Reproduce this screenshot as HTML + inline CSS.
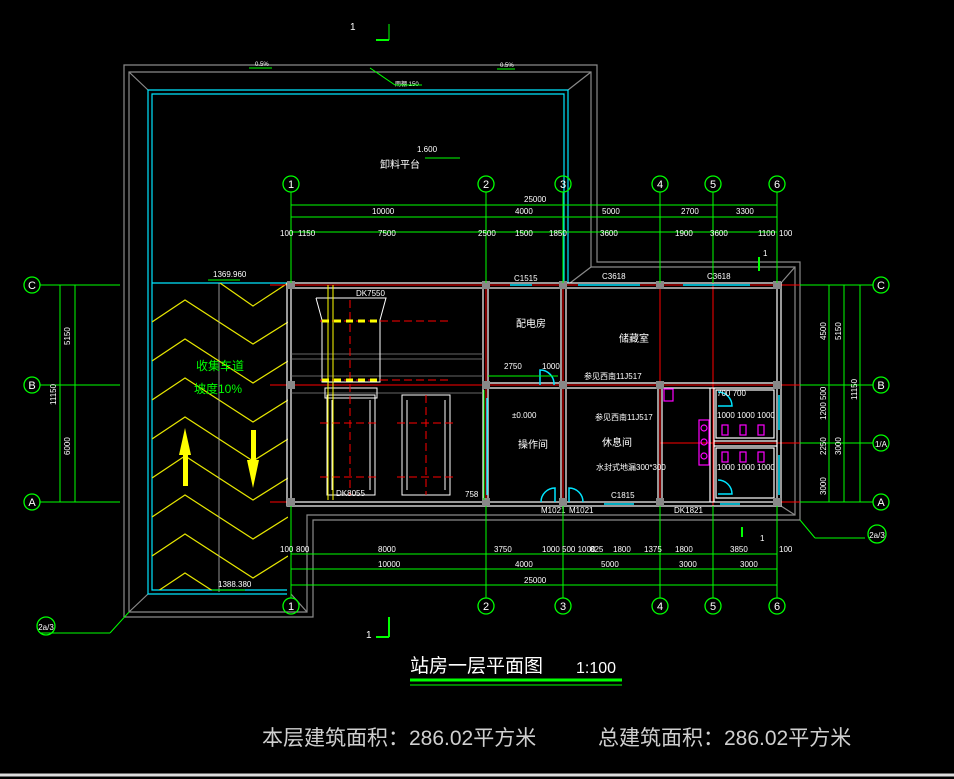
<!DOCTYPE html>
<html><head><meta charset="utf-8"><style>
html,body{margin:0;padding:0;background:#000;width:954px;height:779px;overflow:hidden}
svg{display:block}
text{font-family:"Liberation Sans","Noto Sans CJK SC",sans-serif}
</style></head><body>
<svg width="954" height="779" viewBox="0 0 954 779" xmlns="http://www.w3.org/2000/svg">
<defs><clipPath id="rc"><rect x="152" y="283" width="136" height="307"/></clipPath></defs>
<rect width="954" height="779" fill="#000"/>
<!-- gray outer frames -->
<g fill="none" stroke="#8a8a8a" stroke-width="1.2">
<polyline points="124,617 124,65 597,65 597,262 800,262 800,520 313,520 313,617 124,617"/>
<polyline points="129,612 129,72 591,72 591,267 795,267 795,515 307,515 307,612 129,612"/>
<line x1="129" y1="72" x2="148" y2="90"/><line x1="591" y1="72" x2="568" y2="90"/>
<line x1="129" y1="612" x2="148" y2="594"/><line x1="307" y1="612" x2="291" y2="594"/>
<line x1="795" y1="267" x2="781" y2="283"/><line x1="591" y1="267" x2="570" y2="283"/>
<line x1="795" y1="515" x2="781" y2="506"/>
</g>
<!-- cyan -->
<g fill="none" stroke="#00e5ff" stroke-width="1.2">
<polyline points="287,594 148,594 148,90 568,90 568,283"/>
<polyline points="287,590 152,590 152,94 564,94 564,283"/>
<line x1="152" y1="283" x2="287" y2="283"/>
</g>
<!-- ramp zigzag -->
<g fill="none" stroke="#e6e600" stroke-width="1.2" clip-path="url(#rc)">
<polyline points="220,283 253,306 288,283"/>
<polyline points="152,322 185,300 253,344 288,322"/>
<polyline points="152,361 185,339 253,383 288,361"/>
<polyline points="152,400 185,378 253,422 288,400"/>
<polyline points="152,439 185,417 253,461 288,439"/>
<polyline points="152,478 185,456 253,500 288,478"/>
<polyline points="152,517 185,495 253,539 288,517"/>
<polyline points="152,556 185,534 253,578 288,556"/>
<polyline points="152,595 185,573 253,617 288,595"/>
</g>
<line x1="219" y1="283" x2="219" y2="592" stroke="#bbb" stroke-width="0.8"/>
<g fill="#ffff00">
<rect x="183" y="455" width="5" height="31"/><polygon points="179,455 185,428 191,455"/>
<rect x="251" y="430" width="5" height="32"/><polygon points="247,460 253,488 259,460"/>
</g>
<text x="196" y="370" fill="#00ff00" font-size="12">收集车道</text>
<text x="194" y="393" fill="#00ff00" font-size="12">坡度10%</text>
<!-- red axis lines -->
<g stroke="#ff0000" stroke-width="1">
<line x1="291" y1="270" x2="291" y2="515"/><line x1="486" y1="270" x2="486" y2="515"/>
<line x1="563" y1="270" x2="563" y2="515"/><line x1="660" y1="270" x2="660" y2="515"/>
<line x1="713" y1="270" x2="713" y2="515"/><line x1="777" y1="270" x2="777" y2="515"/>
<line x1="270" y1="285" x2="800" y2="285"/><line x1="270" y1="385" x2="800" y2="385"/>
<line x1="660" y1="443" x2="800" y2="443"/><line x1="270" y1="502" x2="800" y2="502"/>
</g>
<!-- walls -->
<g fill="none" stroke="#ffffff" stroke-width="1.2">
<rect x="287" y="283" width="494" height="223"/>
<rect x="291" y="288" width="486" height="214"/>
<line x1="483" y1="288" x2="483" y2="502"/><line x1="488" y1="288" x2="488" y2="502"/>
<line x1="561" y1="288" x2="561" y2="502"/><line x1="566" y1="288" x2="566" y2="502"/>
<line x1="658" y1="388" x2="658" y2="502"/><line x1="662" y1="388" x2="662" y2="502"/>
<line x1="710" y1="388" x2="710" y2="502"/><line x1="714" y1="388" x2="714" y2="502"/>
<line x1="488" y1="383" x2="777" y2="383"/><line x1="488" y1="388" x2="777" y2="388"/>
<line x1="714" y1="441" x2="777" y2="441"/><line x1="714" y1="446" x2="777" y2="446"/>
<rect x="716" y="390" width="58" height="48"/><rect x="716" y="448" width="58" height="50"/>
</g>
<g stroke="#888" stroke-width="0.8"><line x1="291" y1="354" x2="483" y2="354"/><line x1="291" y1="359" x2="483" y2="359"/><line x1="291" y1="376" x2="483" y2="376"/><line x1="291" y1="393" x2="483" y2="393"/></g>
<!-- columns -->
<g fill="#888">
<rect x="287" y="281" width="8" height="8"/><rect x="482" y="281" width="8" height="8"/><rect x="559" y="281" width="8" height="8"/><rect x="656" y="281" width="8" height="8"/><rect x="773" y="281" width="8" height="8"/>
<rect x="287" y="381" width="8" height="8"/><rect x="482" y="381" width="8" height="8"/><rect x="559" y="381" width="8" height="8"/><rect x="656" y="381" width="8" height="8"/><rect x="773" y="381" width="8" height="8"/>
<rect x="287" y="498" width="8" height="8"/><rect x="482" y="498" width="8" height="8"/><rect x="559" y="498" width="8" height="8"/><rect x="656" y="498" width="8" height="8"/><rect x="773" y="498" width="8" height="8"/>
</g>
<!-- windows cyan -->
<g stroke="#00e5ff" stroke-width="1.5" fill="none">
<line x1="510" y1="285" x2="532" y2="285"/><line x1="578" y1="285" x2="640" y2="285"/><line x1="683" y1="285" x2="750" y2="285"/>
<line x1="487" y1="398" x2="487" y2="495"/><line x1="779" y1="395" x2="779" y2="430"/><line x1="779" y1="455" x2="779" y2="495"/>
<line x1="604" y1="504" x2="634" y2="504"/><line x1="720" y1="504" x2="740" y2="504"/>
<path d="M541,502 A14,14 0 0 1 555,488 L555,502"/><path d="M569,502 L569,488 A14,14 0 0 1 583,502"/>
<path d="M540,385 L540,370 A14,14 0 0 1 554,385" /><path d="M718,392 A14,14 0 0 1 732,406 L718,406"/><path d="M718,480 A14,14 0 0 1 732,494 L718,494"/>
</g>
<!-- equipment -->
<g fill="none" stroke="#ffffff" stroke-width="1">
<polyline points="316,298 322,320 322,382 380,382 380,320 386,298 316,298"/>
<rect x="327" y="395" width="48" height="100"/><rect x="402" y="395" width="48" height="100"/>
<line x1="332" y1="400" x2="332" y2="490"/><line x1="370" y1="400" x2="370" y2="490"/><line x1="407" y1="400" x2="407" y2="490"/><line x1="445" y1="400" x2="445" y2="490"/>
<rect x="325" y="388" width="52" height="10"/>
</g>
<g stroke="#ff0000" stroke-dasharray="8,4" stroke-width="1"><line x1="350" y1="300" x2="350" y2="495"/><line x1="426" y1="395" x2="426" y2="495"/><line x1="320" y1="321" x2="452" y2="321"/><line x1="320" y1="380" x2="452" y2="380"/><line x1="320" y1="423" x2="380" y2="423"/><line x1="397" y1="423" x2="455" y2="423"/><line x1="320" y1="477" x2="380" y2="477"/><line x1="397" y1="477" x2="455" y2="477"/></g>
<g stroke="#ffff00" stroke-width="3" stroke-dasharray="7,5"><line x1="322" y1="321" x2="380" y2="321"/><line x1="322" y1="380" x2="380" y2="380"/></g>
<line x1="328" y1="285" x2="328" y2="500" stroke="#ffff00" stroke-width="1"/><line x1="333" y1="285" x2="333" y2="500" stroke="#ffff00" stroke-width="1"/>
<!-- magenta fixtures -->
<g fill="none" stroke="#ff00ff" stroke-width="1.2">
<rect x="664" y="389" width="9" height="12"/><rect x="699" y="420" width="10" height="45"/>
<circle cx="704" cy="428" r="3"/><circle cx="704" cy="442" r="3"/><circle cx="704" cy="456" r="3"/>
<rect x="722" y="425" width="6" height="10"/><rect x="740" y="425" width="6" height="10"/><rect x="758" y="425" width="6" height="10"/>
<rect x="722" y="452" width="6" height="10"/><rect x="740" y="452" width="6" height="10"/><rect x="758" y="452" width="6" height="10"/>
</g>
<!-- room labels -->
<g fill="#fff" font-size="10">
<text x="516" y="327">配电房</text><text x="619" y="342">储藏室</text><text x="518" y="448">操作间</text><text x="602" y="446">休息间</text>
<text x="380" y="168" font-size="10">卸料平台</text>
</g>
<!-- small labels -->
<g fill="#fff" font-size="8">
<text x="356" y="296">DK7550</text><text x="514" y="281">C1515</text><text x="602" y="279">C3618</text><text x="707" y="279">C3618</text>
<text x="336" y="496">DK8055</text><text x="611" y="498">C1815</text><text x="541" y="513">M1021</text><text x="569" y="513">M1021</text><text x="674" y="513">DK1821</text>
<text x="504" y="369">2750</text><text x="542" y="369">1000</text><text x="512" y="418">±0.000</text><text x="465" y="497">758</text>
<text x="717" y="396">700 700</text><text x="717" y="418">1000 1000 1000</text><text x="717" y="470">1000 1000 1000</text>
<text x="584" y="379">参见西南11J517</text><text x="595" y="420">参见西南11J517</text><text x="596" y="470">水封式地漏300*300</text>
<text x="213" y="277">1369.960</text><text x="218" y="587">1388.380</text><text x="417" y="152">1.600</text>
<text x="395" y="86" font-size="6">雨棚 150</text>
</g>
<!-- dimension lines -->
<g stroke="#00ff00" stroke-width="1">
<line x1="291" y1="205" x2="777" y2="205"/><line x1="291" y1="217" x2="777" y2="217"/><line x1="291" y1="232" x2="777" y2="232"/>
<line x1="291" y1="554" x2="777" y2="554"/><line x1="291" y1="569" x2="777" y2="569"/><line x1="291" y1="585" x2="777" y2="585"/>
<line x1="291" y1="192" x2="291" y2="283"/><line x1="486" y1="192" x2="486" y2="283"/><line x1="563" y1="192" x2="563" y2="283"/><line x1="660" y1="192" x2="660" y2="283"/><line x1="713" y1="192" x2="713" y2="283"/><line x1="777" y1="192" x2="777" y2="283"/>
<line x1="291" y1="506" x2="291" y2="598"/><line x1="486" y1="506" x2="486" y2="598"/><line x1="563" y1="506" x2="563" y2="598"/><line x1="660" y1="506" x2="660" y2="598"/><line x1="713" y1="506" x2="713" y2="598"/><line x1="777" y1="506" x2="777" y2="598"/>
<line x1="40" y1="285" x2="120" y2="285"/><line x1="40" y1="385" x2="120" y2="385"/><line x1="40" y1="502" x2="120" y2="502"/>
<line x1="60" y1="285" x2="60" y2="502"/><line x1="75" y1="285" x2="75" y2="502"/>
<line x1="800" y1="285" x2="873" y2="285"/><line x1="800" y1="385" x2="873" y2="385"/><line x1="800" y1="443" x2="873" y2="443"/><line x1="800" y1="502" x2="873" y2="502"/>
<line x1="829" y1="285" x2="829" y2="502"/><line x1="844" y1="285" x2="844" y2="502"/><line x1="860" y1="285" x2="860" y2="502"/>
<line x1="484" y1="390" x2="484" y2="500"/><line x1="488" y1="376" x2="558" y2="376"/>
<line x1="389" y1="40" x2="389" y2="24"/><line x1="376" y1="40" x2="389" y2="40" stroke-width="2"/>
<line x1="389" y1="637" x2="389" y2="617" stroke-width="2"/><line x1="376" y1="637" x2="389" y2="637" stroke-width="2"/>
<line x1="759" y1="257" x2="759" y2="271" stroke-width="2"/><line x1="742" y1="527" x2="742" y2="537" stroke-width="2"/>
<line x1="40" y1="633" x2="110" y2="633"/><line x1="110" y1="633" x2="129" y2="612"/>
<line x1="800" y1="520" x2="815" y2="538"/><line x1="815" y1="538" x2="865" y2="538"/>
<line x1="370" y1="68" x2="395" y2="85"/><line x1="395" y1="85" x2="422" y2="85"/><line x1="425" y1="158" x2="460" y2="158"/>
<line x1="208" y1="280" x2="240" y2="280"/><line x1="212" y1="590" x2="245" y2="590"/>
<line x1="249" y1="68" x2="272" y2="68"/><line x1="497" y1="69" x2="515" y2="69"/>
</g>
<g fill="#fff" font-size="8">
<text x="372" y="214">10000</text><text x="515" y="214">4000</text><text x="602" y="214">5000</text><text x="681" y="214">2700</text><text x="736" y="214">3300</text><text x="524" y="202">25000</text>
<text x="280" y="236">100</text><text x="298" y="236">1150</text><text x="378" y="236">7500</text><text x="478" y="236">2500</text><text x="515" y="236">1500</text><text x="549" y="236">1850</text><text x="600" y="236">3600</text><text x="675" y="236">1900</text><text x="710" y="236">3600</text><text x="758" y="236">1100</text><text x="779" y="236">100</text>
<text x="280" y="552">100</text><text x="296" y="552">800</text><text x="378" y="552">8000</text><text x="494" y="552">3750</text><text x="542" y="552">1000 500 1000</text><text x="590" y="552">825</text><text x="613" y="552">1800</text><text x="644" y="552">1375</text><text x="675" y="552">1800</text><text x="730" y="552">3850</text><text x="779" y="552">100</text>
<text x="378" y="567">10000</text><text x="515" y="567">4000</text><text x="601" y="567">5000</text><text x="679" y="567">3000</text><text x="740" y="567">3000</text><text x="524" y="583">25000</text>
<text x="350" y="30" font-size="10">1</text><text x="366" y="638" font-size="10">1</text><text x="763" y="256">1</text><text x="760" y="541">1</text>
<text x="255" y="66" font-size="6">0.5%</text><text x="500" y="67" font-size="6">0.5%</text>
</g>
<g fill="#fff" font-size="8" transform="rotate(-90)">
<text x="-345" y="70">5150</text><text x="-455" y="70">6000</text><text x="-405" y="56">11150</text>
<text x="-340" y="841">5150</text><text x="-455" y="841">3000</text><text x="-400" y="857">11150</text><text x="-340" y="826">4500</text><text x="-420" y="826">1200 500</text><text x="-455" y="826">2250</text><text x="-495" y="826">3000</text>
</g>
<!-- axis circles -->
<g fill="none" stroke="#00ff00" stroke-width="1.3">
<circle cx="291" cy="184" r="8"/><circle cx="486" cy="184" r="8"/><circle cx="563" cy="184" r="8"/><circle cx="660" cy="184" r="8"/><circle cx="713" cy="184" r="8"/><circle cx="777" cy="184" r="8"/>
<circle cx="291" cy="606" r="8"/><circle cx="486" cy="606" r="8"/><circle cx="563" cy="606" r="8"/><circle cx="660" cy="606" r="8"/><circle cx="713" cy="606" r="8"/><circle cx="777" cy="606" r="8"/>
<circle cx="32" cy="285" r="8"/><circle cx="32" cy="385" r="8"/><circle cx="32" cy="502" r="8"/>
<circle cx="881" cy="285" r="8"/><circle cx="881" cy="385" r="8"/><circle cx="881" cy="443" r="8"/><circle cx="881" cy="502" r="8"/>
<circle cx="46" cy="626" r="9"/><circle cx="877" cy="534" r="9"/>
</g>
<g fill="#fff" font-size="11" text-anchor="middle">
<text x="291" y="188">1</text><text x="486" y="188">2</text><text x="563" y="188">3</text><text x="660" y="188">4</text><text x="713" y="188">5</text><text x="777" y="188">6</text>
<text x="291" y="610">1</text><text x="486" y="610">2</text><text x="563" y="610">3</text><text x="660" y="610">4</text><text x="713" y="610">5</text><text x="777" y="610">6</text>
<text x="32" y="289">C</text><text x="32" y="389">B</text><text x="32" y="506">A</text>
<text x="881" y="289">C</text><text x="881" y="389">B</text><text x="881" y="447" font-size="8">1/A</text><text x="881" y="506">A</text>
<text x="46" y="630" font-size="8">2a/3</text><text x="877" y="538" font-size="8">2a/3</text>
</g>
<!-- title -->
<text x="410" y="672" fill="#fff" font-size="19">站房一层平面图</text>
<text x="576" y="673" fill="#fff" font-size="16">1:100</text>
<line x1="410" y1="680" x2="622" y2="680" stroke="#00ff00" stroke-width="3"/>
<line x1="410" y1="685" x2="622" y2="685" stroke="#00ff00" stroke-width="1"/>
<text x="262" y="745" fill="#cfcfcf" font-size="21">本层建筑面积：286.02平方米</text>
<text x="598" y="745" fill="#cfcfcf" font-size="21">总建筑面积：286.02平方米</text>
<line x1="0" y1="775" x2="954" y2="775" stroke="#ddd" stroke-width="3"/>
</svg>
</body></html>
